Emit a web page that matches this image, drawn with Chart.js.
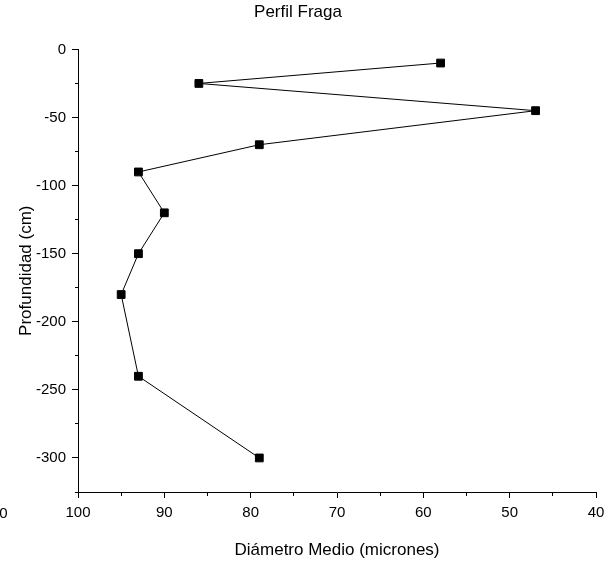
<!DOCTYPE html>
<html>
<head>
<meta charset="utf-8">
<script src="https://cdn.jsdelivr.net/npm/chart.js@4/dist/chart.umd.min.js"></script>
<style>
  html, body { margin: 0; padding: 0; background: #fff; }
  #wrap { width: 605px; height: 561px; }
</style>
</head>
<body>
<div id="wrap"><canvas id="myChart"></canvas></div>
<script>
// diámetro medio (micrones) vs profundidad (cm)
var diametro = [58, 86, 47, 79, 93, 90, 93, 95, 93, 79]
var profundidad = [-10, -25, -45, -70, -90, -120, -150, -180, -240, -300]

var xMin = 40, xMax = 100
var yMin = -325, yMax = 0

var puntos = diametro.map(function(d, i){ return {x: d, y: profundidad[i]} })

var font = 'Liberation Sans'

// minor ticks: short dash only
function minorX(ctx){ return (ctx.tick && ctx.tick.value % 10 !== 0) ? [3, 100] : [] }
function minorY(ctx){ return (ctx.tick && ctx.tick.value % 50 !== 0) ? [0, 3, 3, 100] : [] }

// the cut "110" label at the left edge
const leftLabel = {
  id: 'leftLabel',
  afterDraw: (chart) => {
    const ctx = chart.ctx
    const sx = chart.scales.x
    const px = sx.getPixelForValue(110)
    ctx.save()
    ctx.strokeStyle = '#000'
    ctx.lineWidth = 1
    ctx.beginPath()
    ctx.moveTo(px + 0.5, sx.top)
    ctx.lineTo(px + 0.5, sx.top + 6)
    ctx.stroke()
    ctx.fillStyle = '#000'
    ctx.font = '15px ' + font
    ctx.textAlign = 'center'
    ctx.textBaseline = 'top'
    ctx.fillText('110', px + 4, sx.top + 14)
    ctx.restore()
  }
}

const config = {
  type: 'scatter',
  data: {
    datasets: [{
      label: 'Perfil Fraga',
      data: puntos,
      showLine: true,
      borderColor: '#000',
      borderWidth: 1,
      backgroundColor: '#000',
      pointStyle: 'rect',
      pointRadius: 5.5,
      pointBorderWidth: 1,
      pointBorderColor: '#000',
      pointBackgroundColor: '#000'
    }]
  },
  options: {
    responsive: true,
    maintainAspectRatio: false,
    animation: false,
    layout: { padding: { top: 0, right: 9, bottom: 0, left: 0 } },
    plugins: {
      legend: { display: false },
      tooltip: { enabled: false },
      title: {
        display: true,
        text: 'Perfil Fraga',
        color: '#000',
        font: { family: font, size: 17, weight: 'normal' },
        padding: { top: 2, bottom: 27 }
      }
    },
    scales: {
      x: {
        type: 'linear',
        reverse: true,
        min: xMin,
        max: xMax,
        border: { color: '#000', width: 1 },
        grid: {
          drawOnChartArea: false,
          tickLength: 6,
          tickColor: '#000',
          tickBorderDash: minorX
        },
        ticks: {
          stepSize: 5,
          color: '#000',
          padding: 6,
          maxRotation: 0,
          autoSkip: false,
          font: { family: font, size: 15 },
          callback: function(v){ return v % 10 === 0 ? v : '' }
        },
        title: {
          display: true,
          text: 'Diámetro Medio (micrones)',
          color: '#000',
          font: { family: font, size: 17 },
          padding: { top: 8, bottom: 0 }
        },
        afterFit: function(s){ s.height = 69; s.paddingLeft = 0; s.paddingRight = 0 }
      },
      y: {
        type: 'linear',
        min: yMin,
        max: yMax,
        border: { color: '#000', width: 1 },
        grid: {
          drawOnChartArea: false,
          tickLength: 6,
          tickColor: '#000',
          tickBorderDash: minorY
        },
        ticks: {
          stepSize: 25,
          color: '#000',
          padding: 6,
          autoSkip: false,
          font: { family: font, size: 15 },
          callback: function(v){ return v % 50 === 0 ? v : '' }
        },
        title: {
          display: true,
          text: 'Profundidad (cm)',
          color: '#000',
          font: { family: font, size: 17 },
          padding: { top: 16, bottom: 4 }
        },
        afterFit: function(s){ s.width = 78 }
      }
    }
  },
  plugins: [leftLabel]
}

const myChart = new Chart(document.getElementById('myChart'), config)
</script>
</body>
</html>
